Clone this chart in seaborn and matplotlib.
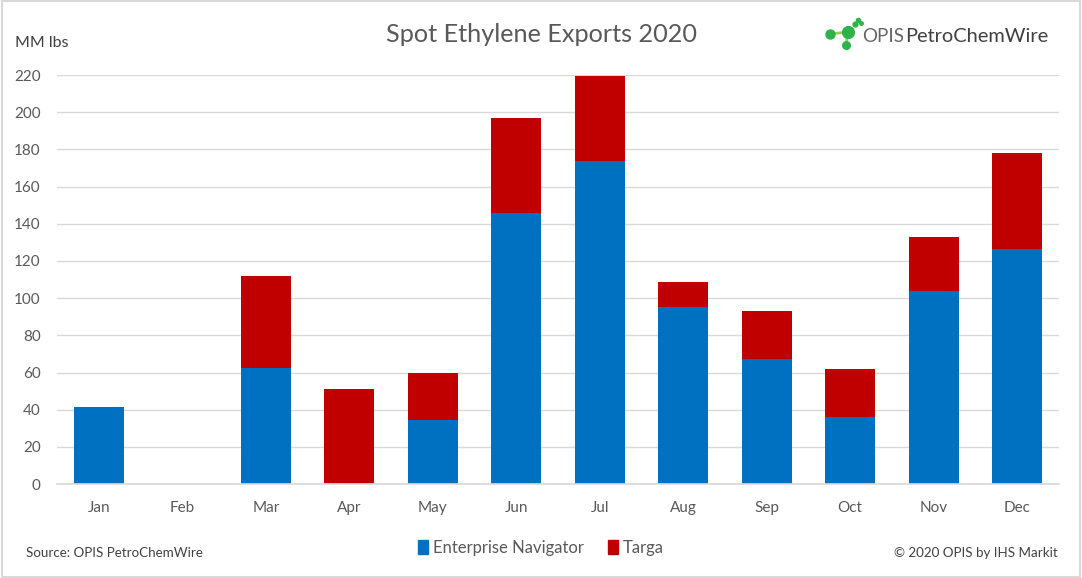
import matplotlib
matplotlib.use("Agg")
import matplotlib.pyplot as plt
from matplotlib.patches import Rectangle, Patch
from matplotlib.lines import Line2D
import seaborn as sns
import pandas as pd

months = ["Jan", "Feb", "Mar", "Apr", "May", "Jun", "Jul", "Aug", "Sep", "Oct", "Nov", "Dec"]
enterprise = [41.5, 0, 62.5, 0, 34.5, 146, 174, 95, 67, 36, 104, 126.5]
targa = [0, 0, 49.5, 51, 25.5, 51, 45.5, 13.5, 26, 26, 29, 51.5]
yticks = list(range(0, 221, 20))

blue = "#0070C0"
red = "#C00000"
grey_txt = "#595959"

df = pd.DataFrame({"month": months, "ent": enterprise, "targa": targa})
df["total"] = df["ent"] + df["targa"]

sns.set_theme(style="white")
plt.rcParams["font.family"] = ["Lato", "DejaVu Sans"]

fig = plt.figure(figsize=(10.82, 5.78), dpi=100)
ax = fig.add_axes([0.053, 0.1626, 0.9255, 0.7074])

sns.barplot(data=df, x="month", y="total", color=red, saturation=1, width=0.6,
            linewidth=0, ax=ax, zorder=3)
sns.barplot(data=df, x="month", y="ent", color=blue, saturation=1, width=0.6,
            linewidth=0, ax=ax, zorder=4)

ax.set_ylim(0, 220)
ax.set_xlim(-0.5, 11.5)
ax.set_yticks(yticks)
ax.yaxis.grid(True, color="#D9D9D9", linewidth=1, zorder=0)
ax.set_axisbelow(True)
for s in ["top", "right", "left"]:
    ax.spines[s].set_visible(False)
ax.spines["bottom"].set_color("#D9D9D9")
ax.spines["bottom"].set_zorder(5)
ax.set_xlabel("")
ax.set_ylabel("")
ax.tick_params(axis="both", length=0, colors=grey_txt, labelsize=11)
ax.tick_params(axis="x", pad=12)
ax.tick_params(axis="y", pad=12)

fig.text(0.5, 0.94, "Spot Ethylene Exports 2020", ha="center", va="center",
         fontsize=18.2, color=grey_txt)
fig.text(0.014, 0.926, "MM lbs", ha="left", va="center", fontsize=11.5, color="#404040")

# logo
fig.text(862 / 1082, 0.936, "OPIS", ha="left", va="center", fontsize=13.5, color="#666666")
fig.text(1048 / 1082, 0.936, "PetroChemWire", ha="right", va="center", fontsize=14.4, color="#404040")
green = "#2DB34A"
lc = "#9BCB5F"
pts = {"l": (830, 34), "m": (848, 32), "b": (846, 45)}
def fp(p):
    return p[0] / 1082, 1 - p[1] / 578
for a, b in [("l", "m"), ("m", "b")]:
    (x0, y0), (x1, y1) = fp(pts[a]), fp(pts[b])
    fig.add_artist(Line2D([x0, x1], [y0, y1], color=lc, lw=2, transform=fig.transFigure))
for key, ms in [("l", 6.5), ("m", 8.5), ("b", 5.5)]:
    x, y = fp(pts[key])
    fig.add_artist(Line2D([x], [y], marker="o", markersize=ms, color=green, transform=fig.transFigure))
for p, ms in [((855, 24), 3.5), ((858, 20), 3), ((861, 23), 2.5)]:
    x, y = fp(p)
    fig.add_artist(Line2D([x], [y], marker="o", markersize=ms, color=green, transform=fig.transFigure))

handles = [Patch(color=blue, label="Enterprise Navigator"), Patch(color=red, label="Targa")]
fig.legend(handles=handles, loc="center", bbox_to_anchor=(0.5, 0.052), ncol=2, frameon=False,
           fontsize=12, handlelength=0.6, handleheight=0.9, handletextpad=0.3,
           columnspacing=1.4, labelcolor=grey_txt)

fig.text(0.024, 0.043, "Source: OPIS PetroChemWire", ha="left", va="center", fontsize=9.6, color="#404040")
fig.text(0.978, 0.043, "\u00a9 2020 OPIS by IHS Markit", ha="right", va="center", fontsize=9.6, color="#404040")

fig.add_artist(Rectangle((0.0015, 0.0025), 0.997, 0.995, transform=fig.transFigure,
                         fill=False, edgecolor="#D9D9D9", linewidth=1.5))

fig.savefig("out.png", dpi=100)
